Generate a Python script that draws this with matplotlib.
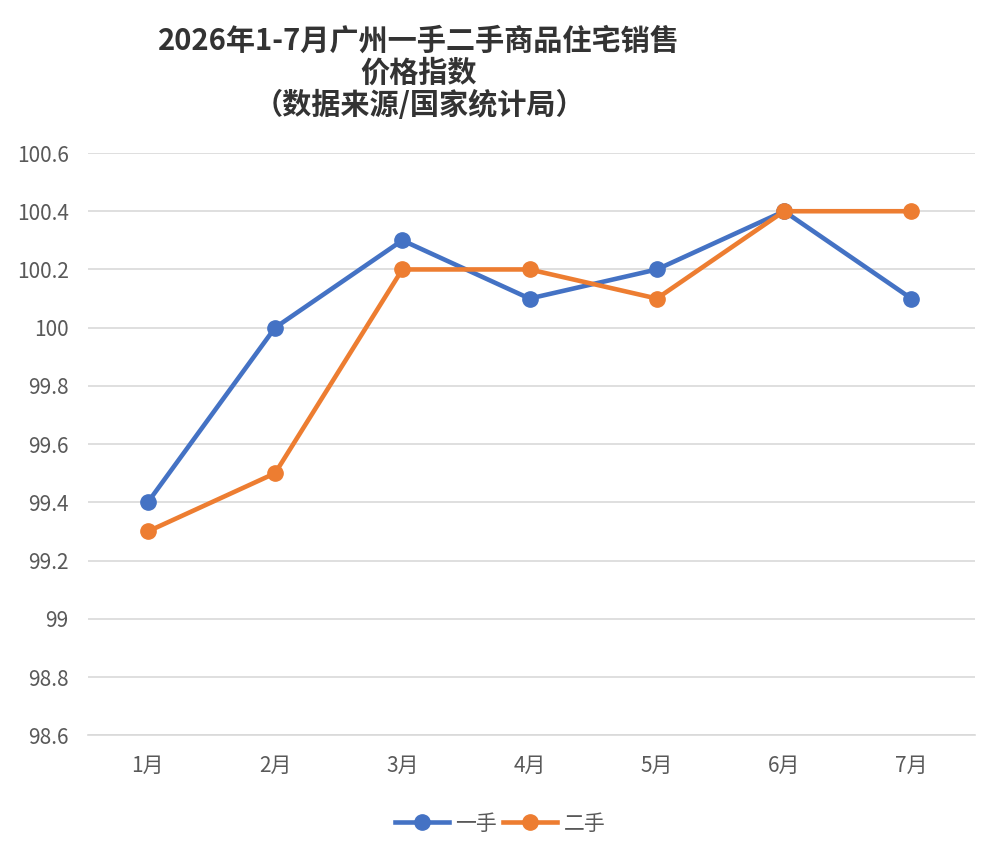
import matplotlib
matplotlib.use("Agg")
import matplotlib.pyplot as plt

plt.rcParams["font.family"] = ["Noto Sans CJK SC", "DejaVu Sans"]

months = ["1月", "2月", "3月", "4月", "5月", "6月", "7月"]
new_home = [99.4, 100.0, 100.3, 100.1, 100.2, 100.4, 100.1]
resale = [99.3, 99.5, 100.2, 100.2, 100.1, 100.4, 100.4]
yticks = [98.6, 98.8, 99.0, 99.2, 99.4, 99.6, 99.8, 100.0, 100.2, 100.4, 100.6]
ytick_labels = ["98.6", "98.8", "99", "99.2", "99.4", "99.6", "99.8", "100", "100.2", "100.4", "100.6"]

BLUE = "#4472C4"
ORANGE = "#ED7D31"
GRID = "#d9d9d9"
TXT = "#595959"

fig = plt.figure(figsize=(10, 8.5), dpi=100)
fig.patch.set_facecolor("white")
ax = fig.add_axes([0.088, 0.135, 0.887, 0.685])

x = range(len(months))
ax.plot(x, new_home, color=BLUE, lw=3.3, marker="o", ms=11, label="一手", zorder=3)
ax.plot(x, resale, color=ORANGE, lw=3.3, marker="o", ms=11, label="二手", zorder=3)

ax.set_xlim(-0.47, 6.5)
ax.set_ylim(98.6, 100.6)
ax.set_yticks(yticks)
ax.set_yticklabels(ytick_labels)
ax.set_xticks(list(x))
ax.set_xticklabels(months)
ax.tick_params(axis="both", length=0, labelsize=15, colors=TXT)
ax.tick_params(axis="y", pad=14)
ax.tick_params(axis="x", pad=14)
ax.grid(axis="y", color=GRID, lw=1.2)
ax.set_axisbelow(True)
for s in ("top", "right", "left"):
    ax.spines[s].set_visible(False)
ax.spines["bottom"].set_color(GRID)
ax.spines["bottom"].set_linewidth(1.2)

fig.text(0.419, 0.952, "2026年1-7月广州一手二手商品住宅销售", ha="center", va="center",
         fontsize=21, fontweight="bold", color="#333333")
fig.text(0.419, 0.914, "价格指数", ha="center", va="center",
         fontsize=21, fontweight="bold", color="#333333")
fig.text(0.419, 0.876, "（数据来源/国家统计局）", ha="center", va="center",
         fontsize=21, fontweight="bold", color="#333333")

fig.legend(loc="center", bbox_to_anchor=(0.5, 0.031), ncol=2, frameon=False,
           fontsize=15, handlelength=2.6, columnspacing=0.3, handletextpad=0.3,
           labelcolor=TXT)

fig.savefig("out.png", dpi=100)
